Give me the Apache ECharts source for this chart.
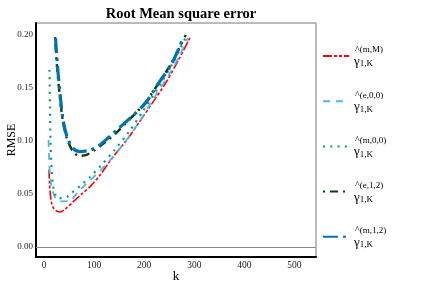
<!DOCTYPE html>
<html><head><meta charset="utf-8">
<script src="https://cdn.jsdelivr.net/npm/echarts@6/dist/echarts.min.js"></script>
<style>html,body{margin:0;padding:0;background:#fff}#c{width:425px;height:300px}</style>
</head><body><div id="c"></div>
<script>
const xTicks = [0, 100, 200, 300, 400, 500];
const yTicks = [0, 0.05, 0.10, 0.15, 0.20];

const names = ['(m,M)', '(e,0,0)', '(m,0,0)', '(e,1,2)', '(m,1,2)'];

const kMM = [10,11,13,16,20,25,32,45,59,75,92,112,130,148,170,192,215,242,268,292];
const yMM = [0.073,0.060,0.048,0.040,0.036,0.034,0.033,0.037,0.043,0.050,0.057,0.068,0.080,0.091,0.104,0.119,0.135,0.154,0.176,0.198];

const kE00 = [9,10,12,16,22,32,52,70,92,112,132,160,190,220,250,270,287];
const yE00 = [0.101,0.085,0.068,0.055,0.047,0.043,0.044,0.053,0.063,0.072,0.082,0.098,0.118,0.141,0.163,0.180,0.197];

const kM00 = [11,12,13,15,18,22,28,45,55,78,92,112,140,170,200,230,260,283];
const yM00 = [0.167,0.130,0.100,0.075,0.058,0.050,0.046,0.047,0.051,0.060,0.066,0.076,0.091,0.109,0.130,0.152,0.176,0.198];

const kE12 = [22,26,32,38,46,58,70,85,100,120,145,170,202,228,255,283];
const yE12 = [0.198,0.170,0.140,0.118,0.102,0.090,0.086,0.087,0.091,0.098,0.108,0.120,0.136,0.154,0.174,0.200];

const kM12 = [23,27,33,38,46,58,72,92,108,142,168,202,228,255,278];
const yM12 = [0.197,0.170,0.140,0.120,0.104,0.093,0.090,0.0915,0.095,0.109,0.120,0.1355,0.154,0.173,0.197];

const pairs = (ks, ys) => ks.map((k, i) => [k, ys[i]]);
const FONT = '"Liberation Serif","DejaVu Serif",serif';

const styles = [
  {color: '#ff0000', width: 1.6, type: [9, 2, 3, 2, 3, 2]},
  {color: '#56B4E9', width: 1.8, type: [7, 6]},
  {color: '#009E73', width: 2.2, type: [2, 5.3]},
  {color: '#0a3d0a', width: 2.4, type: [2, 5, 8, 5]},
  {color: '#0072B2', width: 3.2, type: [15, 5, 3, 5]}
];
const datas = [pairs(kMM, yMM), pairs(kE00, yE00), pairs(kM00, yM00), pairs(kE12, yE12), pairs(kM12, yM12)];

const series = names.map((n, i) => ({
  name: n, type: 'line', data: datas[i], symbol: 'none', smooth: 0.3,
  lineStyle: {color: styles[i].color, width: styles[i].width, type: styles[i].type},
  itemStyle: {color: styles[i].color},
  z: 3
}));
series[0].markLine = {silent: true, symbol: 'none', label: {show: false},
  lineStyle: {color: '#888', width: 1, type: 'solid'}, data: [{yAxis: 0}], z: 1};

const chart = echarts.init(document.getElementById('c'), null, {renderer: 'canvas'});
chart.setOption({
  animation: false,
  backgroundColor: '#fff',
  title: {text: 'Root Mean square error', left: 176, textAlign: 'center', top: 2,
    textStyle: {fontFamily: FONT, fontWeight: 'bold', fontSize: 14.5, color: '#000'}},
  grid: {left: 36, right: 109, top: 23, bottom: 43, show: true, borderColor: '#777', borderWidth: 1,
    containLabel: false, outerBoundsMode: 'none'},
  xAxis: {type: 'value', min: -16, max: 543, name: 'k', nameLocation: 'middle', nameGap: 13,
    nameMoveOverlap: false,
    nameTextStyle: {fontFamily: FONT, fontSize: 13, color: '#000'},
    axisLine: {show: true, onZero: false, lineStyle: {color: '#000', width: 2}},
    axisTick: {show: false},
    splitLine: {show: false},
    axisLabel: {customValues: xTicks, fontFamily: FONT, fontSize: 9.5, color: '#222', margin: 3}},
  yAxis: {type: 'value', min: -0.0094, max: 0.2113, name: 'RMSE', nameLocation: 'middle', nameGap: 18,
    nameMoveOverlap: false,
    nameTextStyle: {fontFamily: FONT, fontSize: 12, color: '#000'},
    axisLine: {show: true, onZero: false, lineStyle: {color: '#000', width: 2}},
    axisTick: {show: false},
    splitLine: {show: false},
    axisLabel: {customValues: yTicks, fontFamily: FONT, fontSize: 9, color: '#222', margin: 3,
      formatter: v => v.toFixed(2)}},
  legend: {orient: 'vertical', left: 322, top: 45, padding: 0, itemWidth: 26, itemHeight: 10, itemGap: 21.7,
    data: names,
    itemStyle: {opacity: 0},
    formatter: n => '{h|^}{sup|' + n + '}\n{g|γ}{sub|1,K}',
    textStyle: {fontFamily: FONT, color: '#000',
      rich: {
        h: {fontFamily: FONT, fontSize: 10, color: '#000', lineHeight: 11, padding: [0, 0, 0, 1]},
        sup: {fontFamily: FONT, fontSize: 9, color: '#000', lineHeight: 11},
        g: {fontFamily: FONT, fontSize: 13, color: '#000', lineHeight: 12},
        sub: {fontFamily: FONT, fontSize: 9, color: '#000', lineHeight: 12, padding: [5, 0, 0, 0]}
      }}},
  series: series
});
</script></body></html>
